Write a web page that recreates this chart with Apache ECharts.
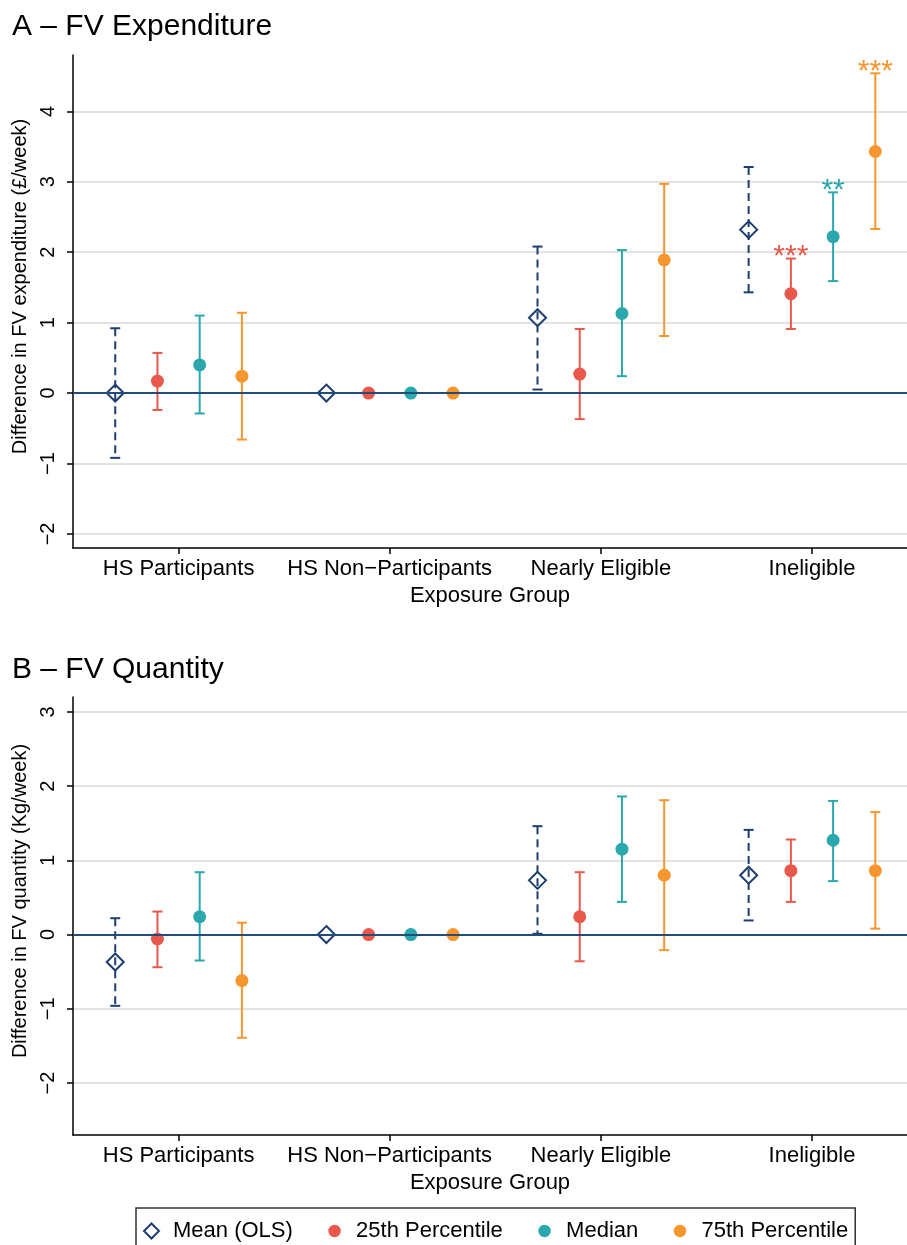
<!DOCTYPE html>
<html>
<head>
<meta charset="utf-8">
<title>FV Expenditure and Quantity</title>
<script src="https://cdn.jsdelivr.net/npm/echarts@6/dist/echarts.min.js"></script>
<style>
  html, body { margin: 0; padding: 0; background: #fff; }
  #chart { width: 907px; height: 1245px; }
</style>
</head>
<body>
<div id="chart"></div>
<script>
// 分组和系列
const groups = ['HS Participants', 'HS Non\u2212Participants', 'Nearly Eligible', 'Ineligible'];
const seriesNames = ['Mean (OLS)', '25th Percentile', 'Median', '75th Percentile'];
const yTicksA = [-2, -1, 0, 1, 2, 3, 4];
const yTicksB = [-2, -1, 0, 1, 2, 3];

// A - FV expenditure (估计值, 下限, 上限, 显著性)
const expMean = [0, 0, 1.07, 2.32];
const expMeanLo = [-0.92, null, 0.05, 1.43];
const expMeanHi = [0.92, null, 2.08, 3.21];
const expP25 = [0.17, 0, 0.27, 1.41];
const expP25Lo = [-0.24, null, -0.37, 0.91];
const expP25Hi = [0.57, null, 0.91, 1.91];
const expMed = [0.40, 0, 1.13, 2.22];
const expMedLo = [-0.29, null, 0.24, 1.59];
const expMedHi = [1.10, null, 2.03, 2.85];
const expP75 = [0.24, 0, 1.89, 3.43];
const expP75Lo = [-0.66, null, 0.81, 2.33];
const expP75Hi = [1.14, null, 2.97, 4.54];
const expStars = [['', '', '', ''], ['', '', '', '***'], ['', '', '', '**'], ['', '', '', '***']];

// B - FV quantity
const qtyMean = [-0.37, 0, 0.73, 0.80];
const qtyMeanLo = [-0.96, null, 0.01, 0.19];
const qtyMeanHi = [0.22, null, 1.46, 1.41];
const qtyP25 = [-0.06, 0, 0.24, 0.86];
const qtyP25Lo = [-0.44, null, -0.36, 0.44];
const qtyP25Hi = [0.31, null, 0.84, 1.28];
const qtyMed = [0.24, 0, 1.15, 1.27];
const qtyMedLo = [-0.35, null, 0.44, 0.72];
const qtyMedHi = [0.84, null, 1.86, 1.80];
const qtyP75 = [-0.62, 0, 0.80, 0.86];
const qtyP75Lo = [-1.39, null, -0.21, 0.08];
const qtyP75Hi = [0.16, null, 1.81, 1.65];
const qtyStars = [['', '', '', ''], ['', '', '', ''], ['', '', '', ''], ['', '', '', '']];

const font = 'Liberation Sans, Arial, Helvetica, sans-serif';
const colors = ['#1d3e6f', '#e8584b', '#2ba8ae', '#f5962e'];
const offsets = [-0.3, -0.1, 0.1, 0.3];

const panels = [
  { est: [expMean, expP25, expMed, expP75], lo: [expMeanLo, expP25Lo, expMedLo, expP75Lo],
    hi: [expMeanHi, expP25Hi, expMedHi, expP75Hi], stars: expStars },
  { est: [qtyMean, qtyP25, qtyMed, qtyP75], lo: [qtyMeanLo, qtyP25Lo, qtyMedLo, qtyP75Lo],
    hi: [qtyMeanHi, qtyP25Hi, qtyMedHi, qtyP75Hi], stars: qtyStars }
];

// 误差线
function errorBar(s) {
  return function (params, api) {
    const x = api.value(0);
    const top = api.coord([x, api.value(2)]);
    const bot = api.coord([x, api.value(1)]);
    const star = api.value(3);
    const style = { stroke: colors[s], lineWidth: 2, lineDash: s === 0 ? [8, 5] : null };
    const capStyle = { stroke: colors[s], lineWidth: 2 };
    const children = [
      { type: 'line', shape: { x1: top[0], y1: top[1], x2: bot[0], y2: bot[1] }, style: style },
      { type: 'line', shape: { x1: top[0] - 5, y1: top[1], x2: top[0] + 5, y2: top[1] }, style: capStyle },
      { type: 'line', shape: { x1: bot[0] - 5, y1: bot[1], x2: bot[0] + 5, y2: bot[1] }, style: capStyle }
    ];
    if (star && star !== '-') {
      children.push({
        type: 'text', x: top[0], y: top[1] - 2,
        style: { text: star, fill: colors[s], font: '30px ' + font, align: 'center', verticalAlign: 'middle' }
      });
    }
    return { type: 'group', children: children };
  };
}

const series = [];
panels.forEach(function (p, g) {
  // 零线
  series.push({
    type: 'scatter', xAxisIndex: g, yAxisIndex: g, data: [], z: 1, silent: true,
    markLine: {
      silent: true, symbol: 'none', label: { show: false },
      lineStyle: { color: '#234d78', width: 2, type: 'solid' },
      data: [{ yAxis: 0 }]
    }
  });
  for (let s = 0; s < 4; s++) {
    const bars = [];
    const pts = [];
    groups.forEach(function (name, i) {
      pts.push([i + offsets[s], p.est[s][i]]);
      if (p.lo[s][i] !== null) {
        bars.push([i + offsets[s], p.lo[s][i], p.hi[s][i], p.stars[s][i] || '-']);
      }
    });
    series.push({
      name: seriesNames[s], type: 'custom', xAxisIndex: g, yAxisIndex: g, z: 2,
      renderItem: errorBar(s), data: bars, silent: true
    });
    series.push({
      name: seriesNames[s], type: 'scatter', xAxisIndex: g, yAxisIndex: g, z: 3,
      data: pts,
      symbol: s === 0 ? 'diamond' : 'circle',
      symbolSize: s === 0 ? 17 : 13,
      itemStyle: s === 0
        ? { color: 'rgba(255,255,255,0)', borderColor: colors[0], borderWidth: 2, opacity: 1 }
        : { color: colors[s], opacity: 1 }
    });
  }
});

function xAxis(g) {
  return {
    gridIndex: g, type: 'value', min: -0.5, max: 3.45,
    name: 'Exposure Group', nameLocation: 'middle', nameGap: 37,
    nameTextStyle: { fontSize: 22, color: '#000', fontFamily: font },
    axisLine: { show: true, onZero: false, lineStyle: { color: '#000', width: 1.5 } },
    axisTick: { show: true, customValues: [0, 1, 2, 3], length: 6, lineStyle: { color: '#000', width: 1.5 } },
    axisLabel: {
      customValues: [0, 1, 2, 3], margin: 10, fontSize: 22, color: '#000', fontFamily: font,
      formatter: function (v) { return groups[Math.round(v)]; }
    },
    splitLine: { show: false }
  };
}

function yAxis(g, min, max, ticks, name) {
  return {
    gridIndex: g, type: 'value', min: min, max: max,
    name: name, nameLocation: 'middle', nameGap: 40,
    nameTextStyle: { fontSize: 20, color: '#000', fontFamily: font, padding: [0, 0, 0, 30] },
    axisLine: { show: true, onZero: false, lineStyle: { color: '#000', width: 1.5 } },
    axisTick: { show: true, customValues: ticks, length: 6, lineStyle: { color: '#000', width: 1.5 } },
    axisLabel: {
      customValues: ticks, rotate: 90, margin: 15, fontSize: 20, color: '#000', fontFamily: font,
      formatter: function (v) { return String(v).replace('-', '\u2212'); }
    },
    splitLine: { show: true, lineStyle: { color: '#e3e3e3', width: 2 } }
  };
}

const chart = echarts.init(document.getElementById('chart'));
chart.setOption({
  backgroundColor: '#fff',
  animation: false,
  title: [
    { text: 'A \u2013 FV Expenditure', left: 12, top: 12, padding: 0,
      textStyle: { fontSize: 30, fontWeight: 'normal', color: '#000', fontFamily: font } },
    { text: 'B \u2013 FV Quantity', left: 12, top: 655, padding: 0,
      textStyle: { fontSize: 30, fontWeight: 'normal', color: '#000', fontFamily: font } }
  ],
  grid: [
    { left: 73, top: 55, width: 834, height: 493 },
    { left: 73, top: 697, width: 834, height: 438 }
  ],
  xAxis: [xAxis(0), xAxis(1)],
  yAxis: [
    yAxis(0, -2.2, 4.8, yTicksA, 'Difference in FV expenditure (\u00a3/week)'),
    yAxis(1, -2.7, 3.2, yTicksB, 'Difference in FV quantity (Kg/week)')
  ],
  legend: {
    left: 136, top: 1208, orient: 'horizontal',
    padding: [12, 7, 40, 7],
    borderColor: '#333', borderWidth: 1.5,
    itemWidth: 15, itemHeight: 15, itemGap: 33,
    textStyle: { fontSize: 22, color: '#000', fontFamily: font, padding: [0, 0, 0, 9] },
    data: [
      { name: seriesNames[0], icon: 'diamond', itemStyle: { color: '#fff', borderColor: colors[0], borderWidth: 2 } },
      { name: seriesNames[1], icon: 'circle', itemStyle: { color: colors[1], borderColor: '#fff', borderWidth: 2.5 } },
      { name: seriesNames[2], icon: 'circle', itemStyle: { color: colors[2], borderColor: '#fff', borderWidth: 2.5 } },
      { name: seriesNames[3], icon: 'circle', itemStyle: { color: colors[3], borderColor: '#fff', borderWidth: 2.5 } }
    ]
  },
  series: series
});
window.onresize = function () {
  chart.resize();
};
</script>
</body>
</html>
